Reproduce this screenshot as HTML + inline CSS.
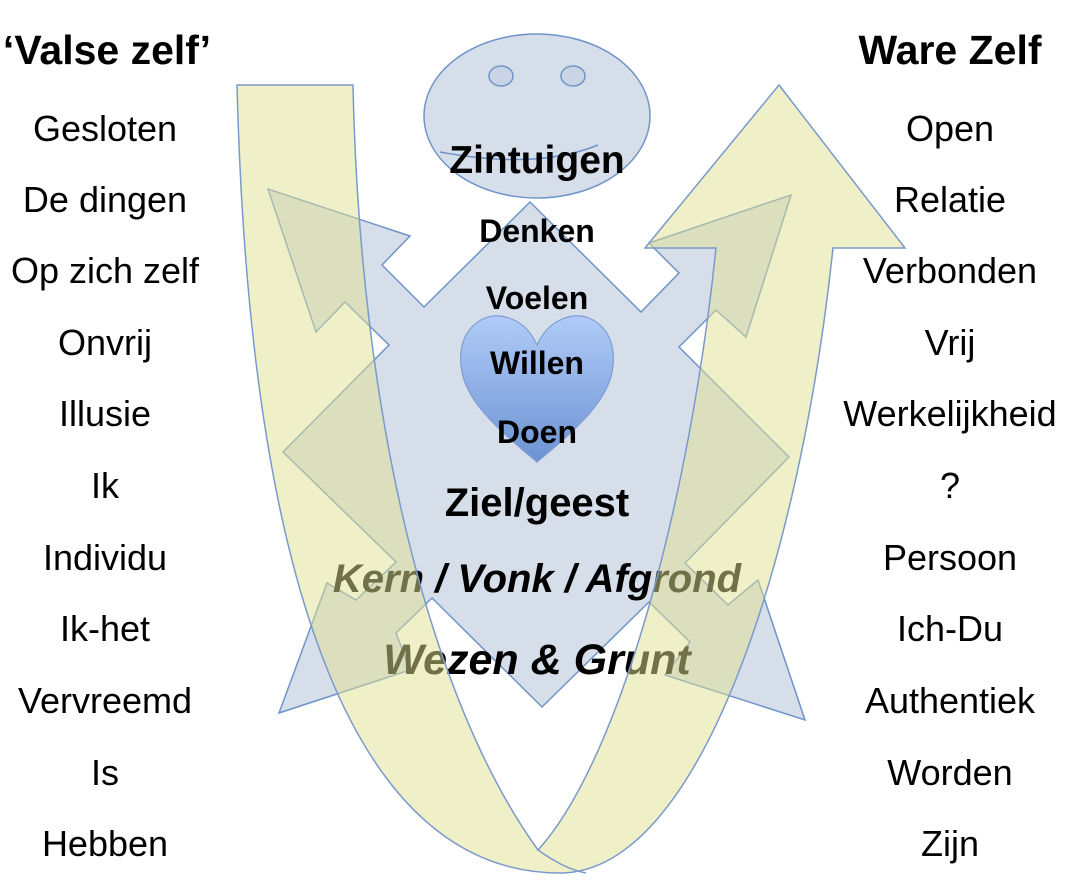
<!DOCTYPE html>
<html><head><meta charset="utf-8"><style>
html,body{margin:0;padding:0;background:#fff;}
svg{display:block;}
.c{font-family:"Liberation Sans",sans-serif;text-anchor:middle;fill:#000;}
</style></head><body>
<svg width="1068" height="880" viewBox="0 0 1068 880" xmlns="http://www.w3.org/2000/svg">
<defs>
<linearGradient id="hg" x1="0" y1="0" x2="0" y2="1">
<stop offset="0" stop-color="#b0cbf6"/><stop offset="1" stop-color="#6d93d4"/>
</linearGradient>
</defs>
<ellipse cx="537" cy="116" rx="113" ry="82" fill="#d6deea" stroke="#6f94c9" stroke-width="1.5"/>
<ellipse cx="501" cy="76" rx="12" ry="10" fill="#c9d4e6" stroke="#6f94c9" stroke-width="1.5"/>
<ellipse cx="573" cy="76" rx="12" ry="10" fill="#c9d4e6" stroke="#6f94c9" stroke-width="1.5"/>
<path d="M440,152 Q537,170 598,145" fill="none" stroke="#6f94c9" stroke-width="1.5"/>
<polygon points="530,202 641,312 679,273 649,243 791,195 746,337 716,310 679,347 789,457 685,563 728,605 758,580 805,720 665,675 690,642 649,602 542,707 432,598 396,633 410,670 279,713 327,583 356,600 396,562 283,452 389,345 345,302 316,332 268,189 410,236 382,265 424,307" fill="#d6deea" stroke="#6f94c9" stroke-width="1.5"/>
<path d="M537,345 C525,318 500,312 485,318 C462,328 458,352 462,372 C468,405 505,435 537,462 C569,435 606,405 612,372 C616,352 612,328 589,318 C574,312 549,318 537,345 Z" fill="url(#hg)" stroke="#7d9dd3" stroke-width="1.2"/>
<text class="c" x="537" y="173" font-size="39" font-weight="bold">Zintuigen</text>
<text class="c" x="537" y="242" font-size="32" font-weight="bold">Denken</text>
<text class="c" x="537" y="309" font-size="32" font-weight="bold">Voelen</text>
<text class="c" x="537" y="374" font-size="32" font-weight="bold">Willen</text>
<text class="c" x="537" y="443" font-size="32" font-weight="bold">Doen</text>
<text class="c" x="537" y="516" font-size="40" font-weight="bold">Ziel/geest</text>
<text class="c" x="537" y="592" font-size="40" font-weight="bold" font-style="italic">Kern / Vonk / Afgrond</text>
<text class="c" x="537" y="674" font-size="43" font-weight="bold" font-style="italic">Wezen &amp; Grunt</text>
<path d="M237,85 L353,85 C360,420 430,700 538,850 C620,760 690,500 716,248 L645,248 L779,85 L905,248 L833,248 C800,560 700,873 560,873 C360,873 250,600 237,85 Z" fill="#dfdf91" fill-opacity="0.5" stroke="#7a9acb" stroke-width="1.5"/>
<path d="M538,850 C555,862 570,870 586,873" fill="none" stroke="#7a9acb" stroke-width="1.5"/>
<g class="c" font-size="36">
<text x="107" y="64" font-size="41" font-weight="bold">‘Valse zelf’</text>
<text x="105" y="141">Gesloten</text>
<text x="105" y="212">De dingen</text>
<text x="105" y="283">Op zich zelf</text>
<text x="105" y="355">Onvrij</text>
<text x="105" y="426">Illusie</text>
<text x="105" y="498">Ik</text>
<text x="105" y="570">Individu</text>
<text x="105" y="641">Ik-het</text>
<text x="105" y="713">Vervreemd</text>
<text x="105" y="785">Is</text>
<text x="105" y="856">Hebben</text>
</g>
<g class="c" font-size="36">
<text x="950" y="64" font-size="41" font-weight="bold">Ware Zelf</text>
<text x="950" y="141">Open</text>
<text x="950" y="212">Relatie</text>
<text x="950" y="283">Verbonden</text>
<text x="950" y="355">Vrij</text>
<text x="950" y="426">Werkelijkheid</text>
<text x="950" y="498">?</text>
<text x="950" y="570">Persoon</text>
<text x="950" y="641">Ich-Du</text>
<text x="950" y="713">Authentiek</text>
<text x="950" y="785">Worden</text>
<text x="950" y="856">Zijn</text>
</g>
</svg>
</body></html>
